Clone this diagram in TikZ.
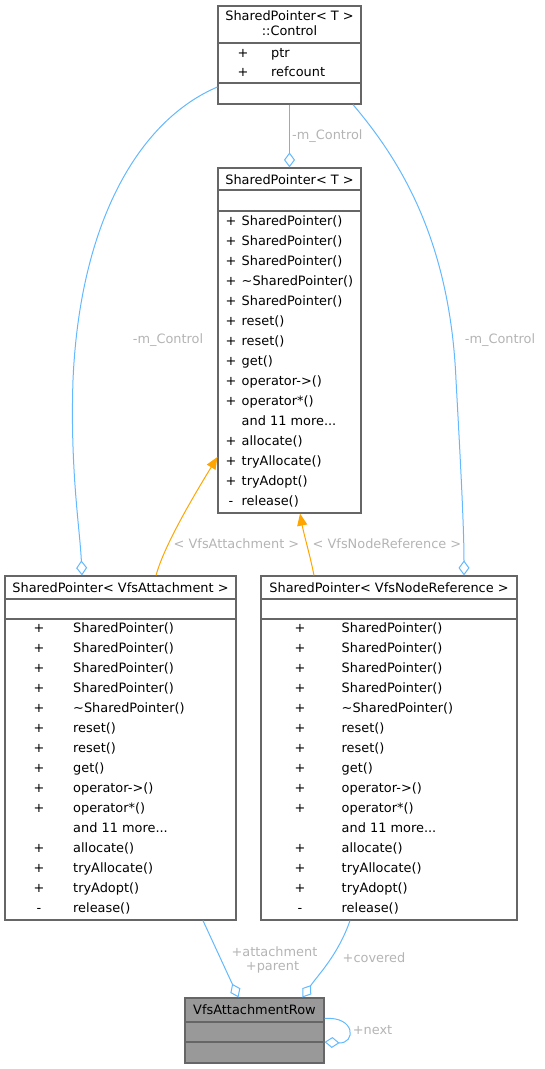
\documentclass[tikz,border=0pt]{standalone}
\usepackage{fontspec}
\setmainfont{DejaVu Sans}
\usepackage{xcolor}
\usetikzlibrary{arrows.meta}
\usetikzlibrary{positioning}
\definecolor{edgeblue}{HTML}{63B8FF}
\definecolor{edgeorange}{HTML}{FFA500}
\definecolor{boxgray}{HTML}{666666}
\definecolor{lblgray}{HTML}{B4B4B4}
\definecolor{rowfill}{HTML}{999999}
\newcommand{\methodsT}{+/{SharedPointer()},+/{SharedPointer()},+/{SharedPointer()},+/{\textasciitilde SharedPointer()},+/{SharedPointer()},+/{reset()},+/{reset()},+/{get()},+/{operator->()},+/{operator*()},/{and 11 more...},+/{allocate()},+/{tryAllocate()},+/{tryAdopt()},-/{release()}}
\newcommand{\methodsV}{+/{SharedPointer()},+/{SharedPointer()},+/{SharedPointer()},+/{SharedPointer()},+/{\textasciitilde SharedPointer()},+/{reset()},+/{reset()},+/{get()},+/{operator->()},+/{operator*()},/{and 11 more...},+/{allocate()},+/{tryAllocate()},+/{tryAdopt()},-/{release()}}

\begin{document}
\begin{tikzpicture}[x=1pt,y=-1pt,
    font=\fontsize{12.9}{15}\selectfont,
    cls/.style={draw=boxgray, line width=1.2pt, inner sep=0pt, fill=white},
    sep/.style={draw=boxgray, line width=1.2pt},
    txt/.style={inner sep=0pt, text height=9.5pt, text depth=0pt},
    lbl/.style={txt, text=lblgray},
    assoc/.style={draw=edgeblue, line width=1pt, -{Diamond[open,length=15pt,width=11pt]}},
    inst/.style={draw=edgeorange, line width=1pt, -{Triangle[length=12pt,width=10pt]}, fill=none}]
    \useasboundingbox (0,0) rectangle (544,1069);

    % boxes
    \node[cls, minimum width=143pt, minimum height=98pt] (ctl) at (289.5,55) {};
    \node[cls, minimum width=143pt, minimum height=345pt] (tp) at (289.5,340.5) {};
    \node[cls, minimum width=231pt, minimum height=344pt] (att) at (120.5,748) {};
    \node[cls, minimum width=256pt, minimum height=344pt] (ref) at (389,748) {};
    \node[cls, fill=rowfill, minimum width=139pt, minimum height=65pt] (row) at (254.5,1030.5) {};

    % compartments
    \draw[sep] (ctl.west |- 0,43) -- (ctl.east |- 0,43);
    \draw[sep] (ctl.west |- 0,83) -- (ctl.east |- 0,83);
    \draw[sep] (tp.west |- 0,190) -- (tp.east |- 0,190);
    \draw[sep] (tp.west |- 0,211) -- (tp.east |- 0,211);
    \draw[sep] (att.west |- 0,599) -- (att.east |- 0,599);
    \draw[sep] (att.west |- 0,619) -- (att.east |- 0,619);
    \draw[sep] (ref.west |- 0,599) -- (ref.east |- 0,599);
    \draw[sep] (ref.west |- 0,619) -- (ref.east |- 0,619);
    \draw[sep] (row.west |- 0,1022) -- (row.east |- 0,1022);
    \draw[sep] (row.west |- 0,1042) -- (row.east |- 0,1042);

    % titles and members
    \node[txt] (ctl-t1) at (289.5,16) {SharedPointer< T >};
    \node[txt] (ctl-t2) at (289.5,31) {::Control};
    \node[txt] (ctl-s0) at (243,53) {+};
    \node[txt, anchor=west] (ctl-n0) at (271,53) {ptr};
    \node[txt] (ctl-s1) at (243,72) {+};
    \node[txt, anchor=west] (ctl-n1) at (271,72) {refcount};
    \node[txt] (tp-t) at (289.5,180) {SharedPointer< T >};
    \node[txt] (att-t) at (120.5,588) {SharedPointer< VfsAttachment >};
    \node[txt] (ref-t) at (389,588) {SharedPointer< VfsNodeReference >};
    \node[txt] (row-t) at (254.5,1010) {VfsAttachmentRow};
    \foreach \s/\n [count=\i from 0] in \methodsT {
      \node[txt] (tp-s\i) at (231,{221+20*\i}) {\s};
      \node[txt, anchor=west] (tp-n\i) at (241.5,{221+20*\i}) {\n};
    }
    \foreach \s/\n [count=\i from 0] in \methodsV {
      \node[txt] (att-s\i) at (39,{628+20*\i}) {\s};
      \node[txt, anchor=west] (att-n\i) at (73,{628+20*\i}) {\n};
      \node[txt] (ref-s\i) at (300,{628+20*\i}) {\s};
      \node[txt, anchor=west] (ref-n\i) at (341.5,{628+20*\i}) {\n};
    }

    % connectors
    \draw[assoc] (ctl.south) -- (tp.north);
    \draw[assoc] ([yshift=-32pt]ctl.west) .. controls (140,120) and (80,220) .. (73,380)
      .. controls (70,470) and (80,530) .. ([xshift=-38.5pt]att.north);
    \draw[assoc] ([xshift=63.5pt]ctl.south) .. controls (400,160) and (450,240) .. (456,380)
      .. controls (461,470) and (464,530) .. ([xshift=75pt]ref.north);
    \draw[inst] ([xshift=35.5pt]att.north) .. controls (163,550) and (185,510) .. ([yshift=-116.5pt]tp.west);
    \draw[inst] ([xshift=-75pt]ref.north) .. controls (310,555) and (304,535) .. ([xshift=10.5pt]tp.south);
    \draw[assoc] ([xshift=82.5pt]att.south) -- ([xshift=-16pt]row.north);
    \draw[assoc] ([xshift=-39pt]ref.south) .. controls (338,955) and (318,975) .. ([xshift=48pt]row.north);
    \draw[assoc] ([yshift=12pt]row.east) .. controls (356,1016) and (356,1044) .. ([yshift=-11.5pt]row.east);

    % labels
    \node[lbl, anchor=west] (l-ctl) at (292,135) {-m\_Control};
    \node[lbl] (l-att) at (168,339) {-m\_Control};
    \node[lbl] (l-ref) at (500,339) {-m\_Control};
    \node[lbl] (l-tatt) at (236.5,544) {< VfsAttachment >};
    \node[lbl] (l-tref) at (387,544) {< VfsNodeReference >};
    \node[lbl] (l-att1) at (274.5,952) {+attachment};
    \node[lbl] (l-att2) at (272.5,966) {+parent};
    \node[lbl] (l-cov) at (374,958) {+covered};
    \node[lbl] (l-next) at (372.5,1030) {+next};
\end{tikzpicture}
\end{document}
